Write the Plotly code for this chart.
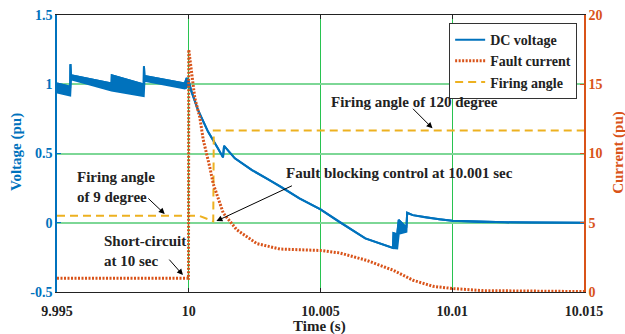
import plotly.graph_objects as go

# ---------------- data ----------------
# DC voltage (pu) - pre-fault ripple band (upper / lower envelopes)
V_PRE_UP_T = [9.995, 9.99550, 9.99551, 9.99553, 9.99707, 9.99708, 9.99829, 9.99830, 9.99832, 9.99985, 9.99992, 10.0]
V_PRE_UP   = [1.005, 0.982,   1.145,   1.065,   1.005,   1.065,   0.998,   1.130,   1.060,   1.005,   1.045,   1.02]
V_PRE_LO_T = [9.995, 9.99550, 9.99553, 9.99707, 9.99829, 9.99832, 9.99985, 9.99992, 10.0]
V_PRE_LO   = [0.940, 0.918,   1.035,   0.955,   0.915,   1.025,   0.970,   0.975,   1.0]
# DC voltage after the fault (single curve)
V_POST_T = [10.0001, 10.00035, 10.00073, 10.0011, 10.0013, 10.00134, 10.00175, 10.0024, 10.003, 10.0035, 10.0042, 10.005, 10.0057, 10.0067, 10.00775]
V_POST   = [0.95,    0.815,    0.658,    0.54,    0.472,   0.555,    0.465,    0.38,    0.315,  0.26,    0.176,   0.097,  0.007,   -0.113,  -0.182]
# recovery ripple band
V_REC_UP_T = [10.00777, 10.00791, 10.00797, 10.00826, 10.00829]
V_REC_UP   = [-0.075,   -0.085,   0.02,     -0.035,   0.072]
V_REC_LO_T = [10.00777, 10.00791, 10.00797, 10.00826, 10.00829]
V_REC_LO   = [-0.185,   -0.185,   -0.08,    -0.065,   0.072]
# tail
V_TAIL_T = [10.0085, 10.009, 10.0095, 10.01, 10.011, 10.012, 10.013, 10.015]
V_TAIL   = [0.055,   0.038,  0.025,   0.014, 0.006,  0.003,  0.001,  0.0]

# Fault current (pu, right axis)
I_T = [9.995, 9.99999, 10.0, 10.0001, 10.00023, 10.00042, 10.00055, 10.0008, 10.00093, 10.00131, 10.00182,
       10.00258, 10.00346, 10.00421, 10.005, 10.00573, 10.00674, 10.00776, 10.00851, 10.00927, 10.01,
       10.01117, 10.013, 10.015]
I_VAL = [1.0, 1.0, 17.5, 16.0, 14.0, 12.6, 11.0, 9.0, 7.8, 5.7, 4.5,
         3.5, 3.1, 3.05, 3.0, 2.82, 2.29, 1.57, 0.85, 0.41, 0.25,
         0.1, 0.05, 0.03]

# Firing angle (degree), drawn on the left axis as angle/180
FA_T = [9.995, 10.0004, 10.00093, 10.00095, 10.015]
FA_DEG = [9, 9, 2, 120, 120]

X_TICKS = [9.995, 10.0, 10.005, 10.01, 10.015]
X_TICKTEXT = ["9.995", "10", "10.005", "10.01", "10.015"]
Y_TICKS = [-0.5, 0, 0.5, 1, 1.5]
Y_TICKTEXT = ["-0.5", "0", "0.5", "1", "1.5"]
Y2_TICKS = [0, 5, 10, 15, 20]

BLUE = "#0072BD"
ORANGE = "#D95319"
YELLOW = "#EDB120"
FONT = "Liberation Serif"

# ---------------- figure ----------------
up_t = V_PRE_UP_T + V_POST_T + V_REC_UP_T + V_TAIL_T
up_v = V_PRE_UP + V_POST + V_REC_UP + V_TAIL
lo_t = V_PRE_LO_T + V_POST_T + V_REC_LO_T + V_TAIL_T
lo_v = V_PRE_LO + V_POST + V_REC_LO + V_TAIL

fig = go.Figure()
fig.add_trace(go.Scatter(x=up_t + lo_t[::-1], y=up_v + lo_v[::-1], mode="lines",
                         fill="toself", fillcolor=BLUE, line=dict(color=BLUE, width=2),
                         showlegend=False, hoverinfo="skip"))
fig.add_trace(go.Scatter(x=up_t, y=up_v, mode="lines", name="DC voltage",
                         line=dict(color=BLUE, width=2)))
fig.add_trace(go.Scatter(x=I_T, y=I_VAL, mode="lines", name="Fault current", yaxis="y2",
                         line=dict(color=ORANGE, width=3, dash="2px,1.5px")))
fig.add_trace(go.Scatter(x=FA_T, y=[a / 180 for a in FA_DEG], mode="lines", name="Firing angle",
                         line=dict(color=YELLOW, width=2, dash="8px,5px")))

fig.update_layout(
    width=625, height=334,
    margin=dict(l=57, r=41, t=15, b=42, autoexpand=False),
    paper_bgcolor="white", plot_bgcolor="white",
    font=dict(family=FONT, size=14, color="black"),
    showlegend=True,
    legend=dict(x=0.987, y=0.971, xanchor="right", yanchor="top",
                bgcolor="white", bordercolor="#333", borderwidth=1,
                font=dict(family=FONT, size=14, weight="bold", color="#222"),
                itemwidth=30, tracegroupgap=0),
    xaxis=dict(range=[9.995, 10.015], tickvals=X_TICKS, ticktext=X_TICKTEXT, automargin=False,
               showline=True, linecolor="#222", linewidth=1, mirror="ticks",
               ticks="inside", ticklen=4, tickcolor="#222", ticklabelstandoff=6,
               showgrid=True, gridcolor="rgb(40,195,80)", gridwidth=1, zeroline=False,
               tickfont=dict(family=FONT, size=14, weight="bold", color="#222")),
    yaxis=dict(range=[-0.5, 1.5], tickvals=Y_TICKS, ticktext=Y_TICKTEXT, automargin=False,
               showline=True, linecolor=BLUE, linewidth=1.5,
               ticks="inside", ticklen=4, tickcolor=BLUE,
               showgrid=True, gridcolor="rgb(125,215,150)", gridwidth=1.5, zeroline=False,
               tickfont=dict(family=FONT, size=14, weight="bold", color=BLUE)),
    yaxis2=dict(range=[0, 20], tickvals=Y2_TICKS, overlaying="y", side="right", automargin=False,
                showline=True, linecolor=ORANGE, linewidth=1.5,
                ticks="inside", ticklen=4, tickcolor=ORANGE,
                showgrid=False, zeroline=False,
                tickfont=dict(family=FONT, size=14, weight="bold", color=ORANGE)),
)

# axis titles
fig.add_annotation(xref="paper", yref="paper", x=-0.078, y=0.505, text="Voltage (pu)", textangle=-90,
                   xanchor="center", yanchor="middle",
                   showarrow=False, font=dict(family=FONT, size=15, weight="bold", color=BLUE))
fig.add_annotation(xref="paper", yref="paper", x=1.064, y=0.505, text="Current (pu)", textangle=-90,
                   xanchor="center", yanchor="middle",
                   showarrow=False, font=dict(family=FONT, size=15, weight="bold", color=ORANGE))
fig.add_annotation(xref="paper", yref="paper", x=0.499, y=-0.123, text="Time (s)",
                   xanchor="center", yanchor="middle",
                   showarrow=False, font=dict(family=FONT, size=15, weight="bold", color="#222"))

txt = dict(family=FONT, size=15, weight="bold", color="#222")
# text labels
fig.add_annotation(x=10.00858, y=0.872, text="Firing angle of 120 degree", showarrow=False, font=txt,
                   xanchor="center", yanchor="middle")
fig.add_annotation(x=9.99567, y=0.258, text="Firing angle<br>of 9 degree", showarrow=False,
                   xanchor="left", yanchor="middle", align="left", font=txt)
fig.add_annotation(x=9.99669, y=-0.201, text="Short-circuit<br>at 10 sec", showarrow=False,
                   xanchor="left", yanchor="middle", align="left", font=txt)
fig.add_annotation(x=10.00799, y=0.357, text="Fault blocking control at 10.001 sec", showarrow=False, font=txt,
                   xanchor="center", yanchor="middle")
# arrows
arrow = dict(text="", showarrow=True, arrowhead=2, arrowsize=1.2, arrowwidth=1, arrowcolor="black")
fig.add_annotation(x=10.00925, y=0.682, ax=-21, ay=-21, **arrow)
fig.add_annotation(x=9.99909, y=0.063, ax=-18, ay=-17, **arrow)
fig.add_annotation(x=9.99978, y=-0.378, ax=-15, ay=-17, **arrow)
fig.add_annotation(x=10.00105, y=0.012, ax=77, ay=-36, **arrow)

fig.write_html("out.html", config={"displayModeBar": False},
               post_script="document.body.style.margin='0px';document.body.style.overflow='hidden';")
